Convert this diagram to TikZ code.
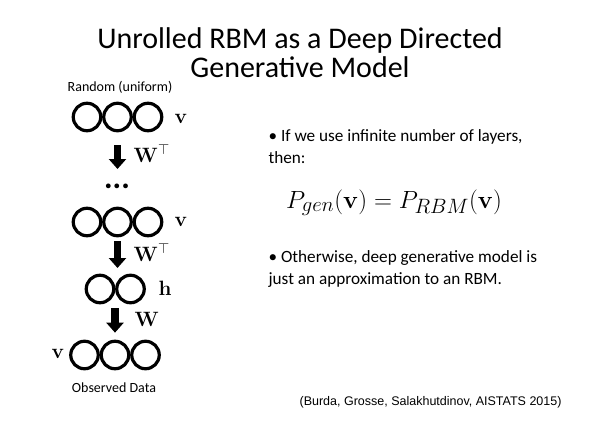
\documentclass[tikz,border=0pt]{standalone}
\usepackage[no-math]{fontspec}
\setmainfont{Carlito}
\newfontfamily\citefont{Liberation Sans}
\usetikzlibrary{arrows.meta,positioning}

\begin{document}
\begin{tikzpicture}[x=1pt,y=-1pt,node distance=30.5pt,
                    line width=3.2pt]

  \tikzstyle{unit}=[circle,draw,minimum size=27.5pt,inner sep=0pt]
  \tikzstyle{down}=[-{Triangle[length=10pt,width=17pt]},line width=7.5pt]
  \tikzstyle{lbl}=[anchor=base west,inner sep=0pt,font=\fontsize{20}{20}\selectfont]
  \tikzstyle{small}=[anchor=base,inner sep=0pt,font=\fontsize{14}{16}\selectfont]
  \tikzstyle{body}=[anchor=base west,inner sep=0pt,align=left,
                    font=\fontsize{17.2}{21.5}\selectfont]

  \useasboundingbox (0,0) rectangle (600,423);

  % title (base anchor sits on the last line)
  \node (title) [anchor=base,inner sep=0pt,align=center,
                 font=\fontsize{30}{29}\selectfont] at (300,77)
        {Unrolled RBM as a Deep Directed \\ Generative Model};

  % top layer: random visible units
  \node[small] (rnd) at (120,91) {Random (uniform)};
  \node[unit] (v1a) at (87,117) {};
  \node[unit] (v1b) [right of=v1a] {};
  \node[unit] (v1c) [right of=v1b] {};
  \node[lbl] (v1lab) at (173,123) {$\mathbf{v}$};

  \node (dots) [inner sep=0pt,font=\fontsize{32}{32}\bfseries] at (117,186) {...};

  % unrolled visible layer
  \node[unit] (v2a) at (87,222) {};
  \node[unit] (v2b) [right of=v2a] {};
  \node[unit] (v2c) [right of=v2b] {};
  \node[lbl] (v2lab) at (173,226) {$\mathbf{v}$};

  % hidden layer
  \node[unit] (h1) at (100,289) {};
  \node[unit] (h2) [right of=h1] {};
  \node[lbl] (hlab) at (157,295) {$\mathbf{h}$};

  % observed data
  \node[unit] (v0a) at (84.5,355) {};
  \node[unit] (v0b) [right of=v0a] {};
  \node[unit] (v0c) [right of=v0b] {};
  \node[lbl] (v0lab) at (50,358) {$\mathbf{v}$};
  \node[small] (obs) at (114,392) {Observed Data};

  % weights
  \draw[down,shorten <=13pt,shorten >=17pt] (v1b) -- (v1b |- dots);
  \draw[down,shorten <=4pt,shorten >=21pt] (v2b) -- (v2b |- h1);
  \draw[down,shorten <=19pt,shorten >=7pt] (v0b |- h1) -- (v0b);

  \node[lbl] (w1) at (132,162) {$\mathbf{W}^{\top}$};
  \node[lbl] (w2) at (132,261) {$\mathbf{W}^{\top}$};
  \node[lbl] (w3) at (133,326) {$\mathbf{W}$};

  % right hand text (base anchor sits on the last line)
  \node[body] (b1) at (267,163)
        {\textbullet\ If we use infinite number of layers, \\ then:};
  \node (eq) [anchor=base,inner sep=0pt,font=\fontsize{27.5}{27.5}\selectfont] at (394,208)
        {$P_{gen}(\mathbf{v}) = P_{RBM}(\mathbf{v})$};
  \node[body] (b2) at (267,284)
        {\textbullet\ Otherwise, deep generative model is \\ just an approximation to an RBM.};

  \node (cite) [anchor=base west,inner sep=0pt,font=\citefont\fontsize{12.5}{13}\selectfont]
        at (298,405) {(Burda, Grosse, Salakhutdinov, AISTATS 2015)};
\end{tikzpicture}
\end{document}
